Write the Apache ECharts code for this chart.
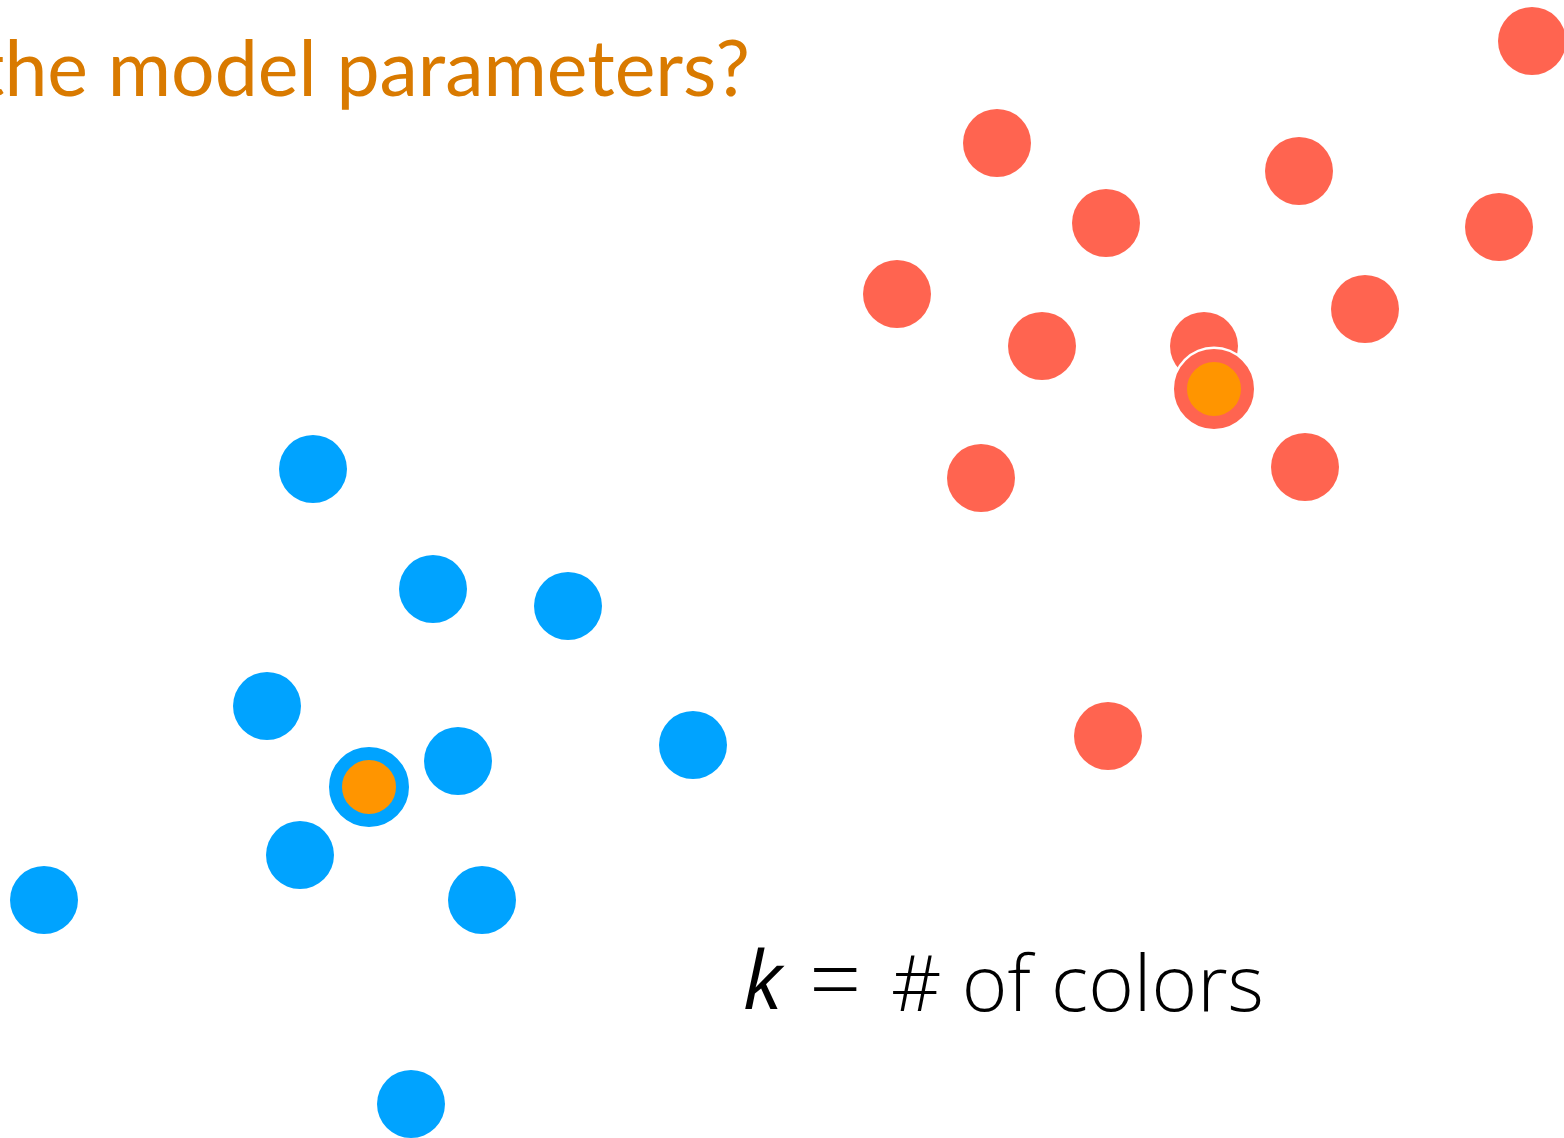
<!DOCTYPE html>
<html>
<head>
<meta charset="utf-8">
<script src="https://cdn.jsdelivr.net/npm/echarts@6/dist/echarts.min.js"></script>
<style>
  html, body { margin: 0; padding: 0; background: #fff; }
  #chart { width: 1564px; height: 1138px; }
</style>
</head>
<body>
<div id="chart"></div>
<script>
// points (x to the right, y downwards)
var redPoints = [
  [1532, 41], [997, 143], [1299, 171], [1106, 223], [1499, 227],
  [897, 294], [1365, 309], [1042, 346], [1204, 346], [981, 478],
  [1305, 467], [1108, 736]
];
var bluePoints = [
  [313, 469], [433, 589], [568, 606], [267, 706], [458, 761],
  [693, 745], [300, 855], [44, 900], [482, 900], [411, 1104]
];
var redCentroid = [[1214, 389]];
var blueCentroid = [[369, 787]];

var titleText = 'the model parameters?';
var noteText = '# of colors';

var chart = echarts.init(document.getElementById('chart'));
chart.setOption({
  animation: false,
  grid: { left: 0, right: 0, top: 0, bottom: 0 },
  xAxis: { type: 'value', min: 0, max: 1564, show: false },
  yAxis: { type: 'value', min: 0, max: 1138, inverse: true, show: false },
  graphic: [
    {
      type: 'text',
      right: 814,
      top: 33,
      style: {
        text: titleText,
        font: '400 77px Lato',
        fill: '#d97a00'
      }
    },
    {
      type: 'text',
      left: 743,
      top: 946,
      style: { text: 'k', font: 'italic 500 80px "Open Sans"', fill: '#000' }
    },
    {
      type: 'text',
      left: 809,
      top: 940,
      style: { text: '=', font: '200 92px "Open Sans"', fill: '#000' }
    },
    {
      type: 'text',
      left: 891,
      top: 950,
      style: { text: noteText, font: '300 78px "Open Sans"', fill: '#000' }
    }
  ],
  series: [
    {
      type: 'scatter',
      data: redPoints,
      symbolSize: 68,
      itemStyle: { color: '#ff6450', opacity: 1 },
      emphasis: { disabled: true }
    },
    {
      type: 'scatter',
      data: bluePoints,
      symbolSize: 68,
      itemStyle: { color: '#00a3ff', opacity: 1 },
      emphasis: { disabled: true }
    },
    {
      type: 'scatter',
      data: redCentroid.concat(blueCentroid),
      symbolSize: 85,
      itemStyle: { color: '#fff', opacity: 1 },
      emphasis: { disabled: true }
    },
    {
      type: 'scatter',
      data: redCentroid,
      symbolSize: 67,
      itemStyle: { color: '#ff9500', borderColor: '#ff6450', borderWidth: 13, opacity: 1 },
      emphasis: { disabled: true }
    },
    {
      type: 'scatter',
      data: blueCentroid,
      symbolSize: 67,
      itemStyle: { color: '#ff9500', borderColor: '#00a3ff', borderWidth: 13, opacity: 1 },
      emphasis: { disabled: true }
    }
  ]
});
</script>
</body>
</html>
